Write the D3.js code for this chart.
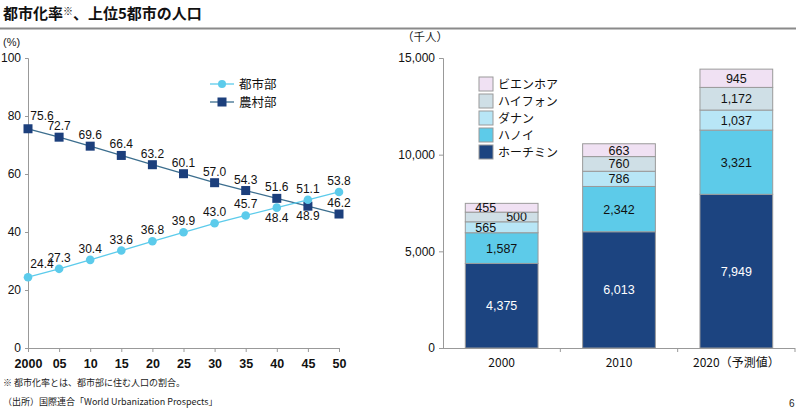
<!DOCTYPE html>
<html><head><meta charset="utf-8">
<script src="https://cdn.jsdelivr.net/npm/d3@7"></script>
<style>
body{margin:0;background:#fff;}
svg{display:block;font-family:"Liberation Sans","Noto Sans CJK JP",Arial,sans-serif;}
</style></head><body>
<script>
// ---- data ----
const years = ["2000","05","10","15","20","25","30","35","40","45","50"];
const urban = [24.4,27.3,30.4,33.6,36.8,39.9,43.0,45.7,48.4,51.1,53.8];
const rural = [75.6,72.7,69.6,66.4,63.2,60.1,57.0,54.3,51.6,48.9,46.2];
const lineTicks = [0,20,40,60,80,100];

const barCats = ["2000","2010","2020（予測値）"];
const cities = ["ホーチミン","ハノイ","ダナン","ハイフォン","ビエンホア"];
const hcm = [4375,6013,7949];
const hanoi = [1587,2342,3321];
const danang = [565,786,1037];
const haiphong = [500,760,1172];
const bienhoa = [455,663,945];
const barTicks = [0,5000,10000,15000];

const W=800,H=410;
const svg=d3.select("body").append("svg").attr("width",W).attr("height",H);
const JP='"Noto Sans CJK JP","Liberation Sans",sans-serif';

// title
const title=svg.append("text").attr("x",3).attr("y",19).attr("font-size",15).attr("font-weight","bold")
  .attr("font-family",JP).attr("fill","#111");
title.append("tspan").text("都市化率");
title.append("tspan").attr("font-size",10).attr("dy",-4).text("※");
title.append("tspan").attr("dy",4).text("、上位5都市の人口");
svg.append("line").attr("x1",0).attr("x2",796).attr("y1",28.5).attr("y2",28.5)
  .attr("stroke","#8a8a8a").attr("stroke-width",2);

// ---- left line chart ----
const xL=d3.scaleLinear().domain([0,years.length-1]).range([28,339]);
const yL=d3.scaleLinear().domain([0,100]).range([348,58]);
svg.append("text").attr("x",3).attr("y",46).attr("font-size",11).attr("fill","#222").text("(%)");
const gyL=svg.append("g").attr("transform","translate(28,0)")
  .call(d3.axisLeft(yL).tickValues(lineTicks).tickSize(3).tickPadding(4));
const gxL=svg.append("g").attr("transform","translate(0,348)")
  .call(d3.axisBottom(xL).tickValues(d3.range(years.length)).tickFormat(i=>years[i]).tickSize(4).tickPadding(7));
[gyL,gxL].forEach(g=>{
  g.select(".domain").attr("stroke","#999");
  g.selectAll(".tick line").attr("stroke","#999");
  g.selectAll("text").attr("font-size",12).attr("fill","#111").attr("font-family","Liberation Sans,Arial,sans-serif");
});
gxL.selectAll("text").attr("font-weight","bold").attr("font-size",12.5);

const uCol="#5CCBEB", rLine="#3C6E8E", rCol="#1C3F7C";
const lineGen=d3.line().x((d,i)=>xL(i)).y(d=>yL(d));
svg.append("path").datum(rural).attr("d",lineGen).attr("fill","none").attr("stroke",rLine).attr("stroke-width",1.3);
svg.append("path").datum(urban).attr("d",lineGen).attr("fill","none").attr("stroke",uCol).attr("stroke-width",1.3);
svg.selectAll(".rm").data(rural).join("rect").attr("x",(d,i)=>xL(i)-4.5).attr("y",d=>yL(d)-4.5)
  .attr("width",9).attr("height",9).attr("fill",rCol);
svg.selectAll(".um").data(urban).join("circle").attr("cx",(d,i)=>xL(i)).attr("cy",d=>yL(d))
  .attr("r",4.3).attr("fill",uCol);

function lblPos(vals,other,i){
  const below = Math.abs(vals[i]-other[i])<5 && vals[i]<other[i];
  if(i===0) return [xL(i)+14, yL(vals[i])-9];
  return [xL(i), yL(vals[i])+(below?14:-7)];
}
[[rural,urban],[urban,rural]].forEach(([v,o])=>{
  v.forEach((d,i)=>{
    const [x,y]=lblPos(v,o,i);
    svg.append("text").attr("x",x).attr("y",y).attr("text-anchor","middle")
      .attr("font-size",12).attr("fill","#111").text(d.toFixed(1));
  });
});

// legend left
[["都市部",uCol,"c",84],["農村部",rCol,"s",102]].forEach(([t,c,m,y])=>{
  svg.append("line").attr("x1",210).attr("x2",234).attr("y1",y).attr("y2",y)
    .attr("stroke",m==="c"?uCol:rLine).attr("stroke-width",1.3);
  if(m==="c") svg.append("circle").attr("cx",222).attr("cy",y).attr("r",4).attr("fill",c);
  else svg.append("rect").attr("x",217.5).attr("y",y-4.5).attr("width",9).attr("height",9).attr("fill",c);
  svg.append("text").attr("x",239).attr("y",y+4.5).attr("font-size",12.5).attr("font-family",JP)
    .attr("fill","#111").text(t);
});

// ---- right stacked bar ----
const series=[hcm,hanoi,danang,haiphong,bienhoa];
const colors=["#1C4480","#5DCBE9","#B8E6F6","#CFDFE6","#F0E1F3"];
const xB=d3.scaleBand().domain(barCats).range([443,795]).paddingInner(0.38).paddingOuter(0.19);
const yB=d3.scaleLinear().domain([0,15000]).range([348,58]);
svg.append("text").attr("x",402).attr("y",41).attr("font-size",11.5).attr("font-family",JP)
  .attr("fill","#222").text("（千人）");
const gyB=svg.append("g").attr("transform","translate(443,0)")
  .call(d3.axisLeft(yB).tickValues(barTicks).tickFormat(d3.format(",")).tickSize(4).tickPadding(4));
gyB.select(".domain").attr("stroke","#999");
gyB.selectAll(".tick line").attr("stroke","#999");
gyB.selectAll("text").attr("font-size",12).attr("fill","#111");
// x axis
const band=(795-443)/3;
svg.append("line").attr("x1",443).attr("x2",795).attr("y1",348.5).attr("y2",348.5).attr("stroke","#999");
d3.range(1,4).forEach(k=>{
  svg.append("line").attr("x1",443+band*k).attr("x2",443+band*k).attr("y1",348).attr("y2",352).attr("stroke","#999");
});
barCats.forEach((c,j)=>{
  svg.append("text").attr("x",443+band*(j+0.5)).attr("y",367).attr("text-anchor","middle")
    .attr("font-size",12).attr("fill","#111").attr("font-family",JP).text(c);
});

const stackData=barCats.map((c,j)=>{
  const o={cat:c}; cities.forEach((n,k)=>o[n]=series[k][j]); return o;
});
const stacked=d3.stack().keys(cities)(stackData);
stacked.forEach((s,k)=>{
  s.forEach((d,j)=>{
    const x0=xB(barCats[j]), bw=xB.bandwidth();
    const y0=yB(d[1]), h=yB(d[0])-yB(d[1]);
    svg.append("rect").attr("x",x0).attr("y",y0).attr("width",bw).attr("height",h)
      .attr("fill",colors[k]).attr("stroke","#9a9a9a").attr("stroke-width",1);
    const v=d[1]-d[0];
    let tx=x0+bw/2, anchor="middle";
    if(j===0 && k>=2){
      if(k===3){tx=x0+bw-11; anchor="end";} else {tx=x0+10; anchor="start";}
    }
    svg.append("text").attr("x",tx).attr("y",y0+h/2+4.5).attr("text-anchor",anchor)
      .attr("font-size",12.5).attr("fill",k===0?"#fff":"#111").text(d3.format(",")(v));
  });
});

// legend right (reversed order)
cities.slice().reverse().forEach((n,i)=>{
  const k=cities.length-1-i, y=77+i*17;
  svg.append("rect").attr("x",479).attr("y",y).attr("width",14).attr("height",14)
    .attr("fill",colors[k]).attr("stroke","#9a9a9a");
  svg.append("text").attr("x",498).attr("y",y+12).attr("font-size",12).attr("font-family",JP)
    .attr("fill","#111").text(n);
});

// footnotes
svg.append("text").attr("x",3).attr("y",386).attr("font-size",9).attr("font-family",JP)
  .attr("fill","#222").text("※ 都市化率とは、都市部に住む人口の割合。");
svg.append("text").attr("x",3).attr("y",405).attr("font-size",9).attr("font-family",JP)
  .attr("fill","#222").text("（出所）国際連合「World Urbanization Prospects」");
svg.append("text").attr("x",789).attr("y",407).attr("font-size",10).attr("fill","#222").text("6");
</script>
</body></html>
